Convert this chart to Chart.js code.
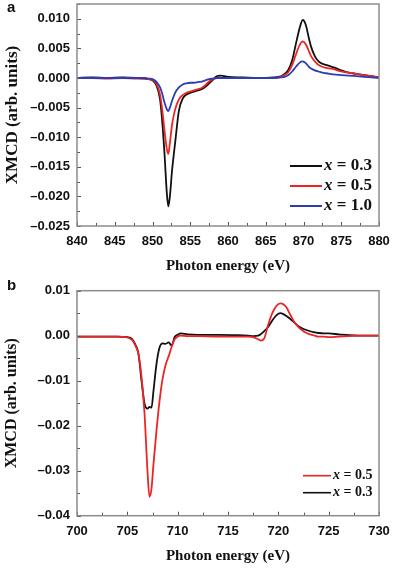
<!DOCTYPE html>
<html><head><meta charset="utf-8">
<script src="https://cdn.jsdelivr.net/npm/chart.js@4"></script>
<style>
html,body{margin:0;padding:0;background:#fff;}
#wrap{position:relative;width:393px;height:570px;overflow:hidden;}
.c{position:absolute;left:0;width:393px;}
#ca{top:0;height:280px;}
#cb{top:280px;height:290px;}
</style></head><body>
<div id="wrap">
<div class="c" id="ca"><canvas id="chartA"></canvas></div>
<div class="c" id="cb"><canvas id="chartB"></canvas></div>
</div>
<script>
// ---------- Panel a data ----------
const energyA = [840,842,844,846,848,849,849.5,850,850.5,851,851.3,851.6,851.9,852.1,852.3,852.6,853,853.5,854,854.5,855,855.5,856,856.5,857,857.5,858,858.5,859,859.5,860,862,864,866,867,867.5,868,868.5,869,869.5,869.9,870.3,870.7,871,871.5,872,872.5,873,873.5,874,875,876,877,878,879,880];
const xmcdA_x03 = [0,0.0001,0,0.0001,0,
-0.0001,-0.0002,-0.0004,-0.0012,-0.0036,
-0.0075,-0.0130,-0.0195,-0.0217,-0.0200,
-0.0155,-0.0109,-0.0055,-0.0035,-0.0028,
-0.0025,-0.0023,-0.0021,-0.0019,-0.0015,
-0.0009,-0.0003,0.0003,0.0004,0.0003,
0.0002,0.0001,0,0.0001,0.0003,
0.0007,0.0014,0.0030,0.0058,0.0085,
0.0098,0.0090,0.0068,0.0053,0.0037,
0.0028,0.0024,0.0022,0.0020,0.0018,
0.0013,0.0009,0.0007,0.0005,0.0003,
0.0001];
const xmcdA_x05 = [0,0,-0.0001,0,-0.0001,
-0.0001,-0.0002,-0.0003,-0.0009,-0.0028,
-0.0055,-0.0090,-0.0120,-0.0128,-0.0110,
-0.0078,-0.0053,-0.0036,-0.0029,-0.0025,
-0.0023,-0.0021,-0.0019,-0.0017,-0.0012,
-0.0006,-0.0002,0,0.0001,0,
0,0,0,0,0.0002,
0.0005,0.0010,0.0022,0.0040,0.0056,
0.0062,0.0057,0.0046,0.0037,0.0028,
0.0022,0.0019,0.0017,0.0016,0.0015,
0.0011,0.0009,0.0007,0.0005,0.0003,
0.0001];
const xmcdA_x10 = [0,0,0,0,0,
0,-0.0001,-0.0002,-0.0006,-0.0016,
-0.0027,-0.0042,-0.0053,-0.0056,-0.0050,
-0.0038,-0.0025,-0.0016,-0.0011,-0.0009,
-0.0008,-0.0008,-0.0007,-0.0006,-0.0004,
-0.0002,-0.0001,0,0,0,
0,0,0,0,0.0001,
0.0002,0.0005,0.0011,0.0019,0.0026,
0.0028,0.0025,0.0019,0.0016,0.0013,
0.0011,0.0009,0.0008,0.0007,0.0006,
0.0005,0.0004,0.0003,0.0002,0.0001,
0];
const labelsA = ['x = 0.3','x = 0.5','x = 1.0'];
const xTicksA = {min:840, max:880, step:2.5, major:5};
const yTicksA = {min:-0.025, max:0.0125, step:0.0025, major:0.005, digits:3};

// ---------- Panel b data ----------
const energyB = [700,702,704,705,705.5,705.8,706.1,706.4,706.7,707,707.2,707.4,707.6,707.9,708.2,708.5,708.8,709.1,709.4,709.7,710,710.3,711,712,714,716,717,717.5,718,718.3,718.6,719,719.4,719.8,720.2,720.5,720.8,721.2,721.6,722,722.5,723,723.5,724,724.5,725,726,727,728,730];
const xmcdB_x05 = [-0.0002,-0.0002,-0.0002,-0.0004,-0.0010,
-0.0022,-0.0040,-0.0090,-0.0170,-0.0300,
-0.0358,-0.0340,-0.0285,-0.0210,-0.0145,
-0.0096,-0.0065,-0.0046,-0.0025,-0.0008,
-0.0002,0,-0.0001,-0.0001,-0.0002,
-0.0002,-0.0002,-0.0003,-0.0008,-0.0011,
-0.0006,0.0025,0.0050,0.0066,0.0072,
0.0070,0.0063,0.0046,0.0030,0.0019,
0.0010,0.0004,0.0001,-0.0002,-0.0002,
-0.0003,-0.0002,-0.0001,0,0];
const xmcdB_x03 = [-0.0002,-0.0002,-0.0002,-0.0003,-0.0008,
-0.0020,-0.0040,-0.0098,-0.0150,-0.0162,
-0.0158,-0.0160,-0.0122,-0.0062,-0.0026,
-0.0017,-0.0018,-0.0015,-0.0022,-0.0003,
0.0002,0.0005,0.0003,0.0002,0.0002,
0.0001,0,-0.0001,0,0.0004,
0.0010,0.0020,0.0034,0.0045,0.0050,
0.0048,0.0044,0.0037,0.0029,0.0021,
0.0015,0.0011,0.0008,0.0006,0.0005,
0.0005,0.0003,0.0001,0,0];
const labelsB = ['x = 0.5','x = 0.3'];
const xTicksB = {min:700, max:730, step:2.5, major:5};
const yTicksB = {min:-0.04, max:0.01, step:0.005, major:0.01, digits:2};

const BLACK = '#111111', RED = '#ee2424', BLUE = '#2a3cb8';
const xTitle = 'Photon energy (eV)';
const yTitle = 'XMCD (arb. units)';

function pts(xs, ys){ return xs.map((e,i)=>({x:e, y:ys[i]})); }
function isMult(v, m){ const r = v/m; return Math.abs(r-Math.round(r)) < 1e-6; }

const framePlugin = {
  id:'frame',
  afterDraw(chart, args, o){
    const {ctx, chartArea:a} = chart;
    const x = chart.scales.x, y = chart.scales.y;
    ctx.save();
    ctx.strokeStyle = '#555'; ctx.lineWidth = 1;
    x.ticks.forEach(t=>{
      const px = Math.round(x.getPixelForValue(t.value))+0.5;
      const L = isMult(t.value, o.xMajor) ? 4 : 3;
      ctx.beginPath(); ctx.moveTo(px, a.bottom); ctx.lineTo(px, a.bottom-L); ctx.stroke();
    });
    y.ticks.forEach(t=>{
      const py = Math.round(y.getPixelForValue(t.value))+0.5;
      const L = isMult(t.value, o.yMajor) ? 4 : 3;
      ctx.beginPath(); ctx.moveTo(a.left, py); ctx.lineTo(a.left+L, py); ctx.stroke();
    });
    ctx.strokeStyle = '#8c8c8c'; ctx.lineWidth = 1.5;
    ctx.strokeRect(a.left, a.top, a.right-a.left, a.bottom-a.top);
    // legend
    const ds = chart.data.datasets;
    o.legendOrder.forEach((di, k)=>{
      const d = ds[di];
      const yy = o.legY + k*o.legDy;
      ctx.strokeStyle = d.borderColor; ctx.lineWidth = o.legLw;
      ctx.beginPath(); ctx.moveTo(o.legX0, yy); ctx.lineTo(o.legX1, yy); ctx.stroke();
      ctx.fillStyle = '#111'; ctx.textBaseline = 'middle'; ctx.textAlign = 'left';
      ctx.font = 'italic bold ' + o.legFont + 'px "Liberation Serif", serif';
      const first = d.label.charAt(0);
      ctx.fillText(first, o.legX1+2, yy);
      const w = ctx.measureText(first).width;
      ctx.font = 'bold ' + o.legFont + 'px "Liberation Serif", serif';
      ctx.fillText(d.label.slice(1), o.legX1+2+w, yy);
    });
    // panel label
    ctx.font = 'bold 15px "Liberation Sans", Arial, sans-serif';
    ctx.fillStyle = '#111'; ctx.textBaseline = 'middle'; ctx.textAlign = 'left';
    ctx.fillText(o.panel, 7, o.panelY);
    ctx.restore();
  }
};

function makeChart(id, datasets, xt, yt, opt){
  return new Chart(document.getElementById(id), {
    type:'line',
    data:{datasets},
    options:{
      responsive:true, maintainAspectRatio:false, animation:false, devicePixelRatio:1,
      layout:{padding:{left:0, right:14, top:opt.top, bottom:0}},
      elements:{point:{radius:0}, line:{borderWidth:1.8, cubicInterpolationMode:'monotone'}},
      plugins:{legend:{display:false}, tooltip:{enabled:false}, frame:opt.frame},
      scales:{
        x:{type:'linear', min:xt.min, max:xt.max,
          grid:{display:false, drawTicks:false}, border:{display:false},
          afterFit:s=>{ s.height = opt.xh; s.paddingLeft = 0; s.paddingRight = 0; },
          ticks:{stepSize:xt.step, padding:8, color:'#111', maxRotation:0, autoSkip:false,
            font:{family:'"Liberation Sans", Arial, sans-serif', weight:'bold', size:13},
            callback:v=> isMult(v, xt.major) ? String(Math.round(v)) : ''},
          title:{display:true, text:xTitle, color:'#111', padding:{top:0, bottom:opt.xtb},
            font:{family:'"Liberation Serif", serif', weight:'bold', size:15}}
        },
        y:{type:'linear', min:yt.min, max:yt.max,
          grid:{display:false, drawTicks:false}, border:{display:false},
          afterFit:s=>{ s.width = 77; s.paddingTop = 0; s.paddingBottom = 0; },
          ticks:{stepSize:yt.step, padding:7, color:'#111', autoSkip:false,
            font:{family:'"Liberation Sans", Arial, sans-serif', weight:'bold', size:13},
            callback:v=>{
              if(!isMult(v, yt.major)) return '';
              const s = Math.abs(v).toFixed(yt.digits);
              return (v < -1e-12 ? '\u2013' : '') + s;
            }},
          title:{display:true, text:yTitle, color:'#111', padding:{top:2, bottom:0},
            font:{family:'"Liberation Serif", serif', weight:'bold', size:opt.ytf}}
        }
      }
    },
    plugins:[framePlugin]
  });
}

makeChart('chartA', [
  {label:labelsA[0], data:pts(energyA, xmcdA_x03), borderColor:BLACK, order:3},
  {label:labelsA[1], data:pts(energyA, xmcdA_x05), borderColor:RED, order:2},
  {label:labelsA[2], data:pts(energyA, xmcdA_x10), borderColor:BLUE, order:1}
], xTicksA, yTicksA, {top:4, xh:54, xtb:5, ytf:17,
  frame:{xMajor:5, yMajor:0.005, legendOrder:[0,1,2], legX0:290, legX1:322, legY:166, legDy:20, legFont:17, legLw:2, panel:'a', panelY:8}});

makeChart('chartB', [
  {label:labelsB[0], data:pts(energyB, xmcdB_x05), borderColor:RED, order:1},
  {label:labelsB[1], data:pts(energyB, xmcdB_x03), borderColor:BLACK, order:2}
], xTicksB, yTicksB, {top:10.7, xh:54.3, xtb:5, ytf:16,
  frame:{xMajor:5, yMajor:0.01, legendOrder:[0,1], legX0:303, legX1:331, legY:195.7, legDy:17, legFont:14, legLw:1.6, panel:'b', panelY:6}});
</script>
</body></html>
